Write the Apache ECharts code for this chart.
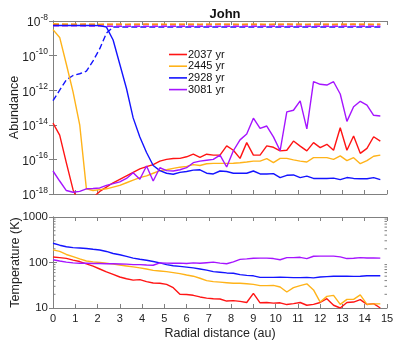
<!DOCTYPE html>
<html>
<head>
<meta charset="UTF-8">
<title>John</title>
<script src="https://cdn.jsdelivr.net/npm/echarts@6/dist/echarts.min.js"></script>
<style>
  * { margin: 0; padding: 0; }
  body { background: #fff; }
  #chart { width: 407px; height: 346px; }
</style>
</head>
<body>
<div id="chart"></div>
<script>
// radial grid (au)
const radius = [0, 0.3, 0.6, 0.9, 1.2, 1.5, 1.8, 2.1, 2.4, 2.7, 3.0, 3.3, 3.6, 3.9, 4.2, 4.5, 4.8, 5.1, 5.4, 5.7,
  6.0, 6.3, 6.6, 6.9, 7.2, 7.5, 7.8, 8.1, 8.4, 8.7, 9.0, 9.3, 9.6, 9.9, 10.2, 10.5, 10.8, 11.1, 11.4, 11.7,
  12.0, 12.3, 12.6, 12.9, 13.2, 13.5, 13.8, 14.1, 14.4, 14.7];

const names = ['2037 yr', '2445 yr', '2928 yr', '3081 yr'];
const colors = ['#ff1414', '#ffb319', '#1414ff', '#a514ff'];

// abundance, log10 exponent (solid lines)
const abun2037 = [-13.9, -14.6, -16.2, -17.75, -18.6, -18.8, -18.2, -17.85, -17.6, -17.35, -17.15, -16.95, -16.75, -16.55, -16.42, -16.3, -16.1, -16.0, -15.95, -15.94,
  -15.85, -15.7, -15.88, -15.7, -15.75, -15.75, -15.22, -15.47, -15.94, -15.03, -15.75, -15.75, -15.22, -15.3, -15.51, -15.47, -14.94, -15.23, -15.51, -15.03,
  -15.32, -15.13, -15.47, -14.17, -15.47, -14.65, -15.65, -15.36, -14.69, -14.94];
const abun2445 = [-8.5, -8.95, -10.5, -12.1, -14.0, -17.7, -17.8, -17.75, -17.7, -17.6, -17.5, -17.35, -17.2, -17.05, -16.95, -16.8, -16.65, -16.6, -16.52, -16.45,
  -16.4, -16.3, -16.35, -16.25, -16.23, -16.23, -16.23, -16.22, -16.19, -16.15, -16.1, -16.1, -15.96, -16.19, -15.94, -15.94, -16.03, -16.1, -16.15, -15.9,
  -15.9, -15.9, -16.0, -15.8, -16.07, -15.9, -16.25, -16.07, -15.82, -15.75];
const abun2928 = [-8.26, -8.26, -8.26, -8.26, -8.26, -8.26, -8.26, -8.27, -8.35, -9.1, -10.5, -11.9, -13.6, -14.7, -15.6, -16.35, -16.65, -16.8, -16.86, -16.75,
  -16.7, -16.62, -16.6, -16.8, -16.84, -16.67, -16.7, -16.8, -16.8, -16.8, -16.67, -16.84, -16.84, -16.82, -17.05, -16.92, -16.9, -17.05, -16.97, -17.1,
  -17.1, -17.1, -17.08, -17.17, -17.05, -17.1, -17.12, -17.12, -17.05, -17.17];
const abun3081 = [-16.67, -17.25, -17.8, -17.9, -17.85, -17.7, -17.68, -17.65, -17.5, -17.4, -17.3, -17.1, -16.77, -17.15, -16.38, -17.25, -16.48, -16.65, -16.67, -16.6,
  -16.48, -16.19, -16.1, -16.05, -16.0, -15.75, -16.44, -15.5, -14.87, -14.53, -13.62, -14.21, -14.07, -14.7, -15.5, -13.25, -13.16, -12.62, -14.24, -11.5,
  -11.66, -11.7, -11.51, -12.22, -13.8, -12.96, -12.64, -12.86, -13.45, -13.49];

// abundance, log10 exponent (dashed lines)
const abun2037d = [-8.2, -8.2, -8.21, -8.2, -8.2, -8.19, -8.2, -8.21, -8.2, -8.2, -8.2, -8.21, -8.2, -8.2, -8.19, -8.2, -8.2, -8.21, -8.2, -8.2,
  -8.2, -8.2, -8.21, -8.2, -8.2, -8.19, -8.2, -8.2, -8.21, -8.2, -8.2, -8.2, -8.21, -8.2, -8.2, -8.19, -8.2, -8.2, -8.21, -8.2,
  -8.2, -8.2, -8.21, -8.2, -8.2, -8.19, -8.2, -8.2, -8.21, -8.2];
const abun2445d = [-8.16, -8.17, -8.17, -8.18, -8.18, -8.18, -8.18, -8.18, -8.18, -8.18, -8.18, -8.18, -8.18, -8.18, -8.18, -8.18, -8.18, -8.18, -8.18, -8.18,
  -8.18, -8.18, -8.18, -8.18, -8.18, -8.18, -8.18, -8.18, -8.18, -8.18, -8.18, -8.18, -8.18, -8.18, -8.18, -8.18, -8.18, -8.18, -8.18, -8.18,
  -8.18, -8.18, -8.18, -8.18, -8.18, -8.18, -8.18, -8.18, -8.18, -8.18];
const abun2928d = [-12.6, -12.0, -11.4, -11.15, -11.05, -10.9, -10.3, -9.6, -8.7, -8.35, -8.35, -8.35, -8.35, -8.35, -8.35, -8.35, -8.35, -8.35, -8.35, -8.35,
  -8.35, -8.35, -8.35, -8.35, -8.35, -8.35, -8.35, -8.35, -8.35, -8.35, -8.35, -8.35, -8.35, -8.35, -8.35, -8.35, -8.35, -8.35, -8.35, -8.35,
  -8.35, -8.35, -8.35, -8.35, -8.35, -8.35, -8.35, -8.35, -8.35, -8.35];
const abun3081d = [-8.28, -8.28, -8.28, -8.28, -8.28, -8.29, -8.29, -8.29, -8.3, -8.3, -8.3, -8.3, -8.3, -8.3, -8.3, -8.3, -8.3, -8.3, -8.3, -8.3,
  -8.3, -8.3, -8.3, -8.3, -8.3, -8.3, -8.3, -8.3, -8.3, -8.3, -8.3, -8.3, -8.3, -8.3, -8.3, -8.3, -8.3, -8.3, -8.3, -8.3,
  -8.3, -8.3, -8.3, -8.3, -8.3, -8.3, -8.3, -8.3, -8.3, -8.3];

// temperature (K)
const temp2037 = [132, 128, 123, 113, 105, 93, 83, 72, 62, 55, 48, 44, 41, 42, 38, 35.5, 35, 33, 28, 20,
  19.8, 19, 17.5, 16.5, 16, 15.8, 14.2, 14.5, 14, 13.2, 21, 13, 13.2, 12.8, 13, 11.9, 12.5, 13.2, 11.5, 12,
  13.2, 16, 11.5, 10, 13.2, 13.5, 15.3, 11.9, 12.5, 10];
const temp2445 = [190, 175, 150, 135, 120, 108, 103, 100, 96, 92, 88, 84, 80, 76, 72, 67, 65, 63, 60, 57,
  53, 50, 45, 40, 38, 37, 36, 35, 35, 34, 33, 31, 31, 31.5, 29, 22.5, 28, 31, 34, 25,
  13.5, 18, 19, 12, 15.5, 15.5, 19.5, 12, 12.3, 12.3];
const temp2928 = [265, 240, 222, 212, 208, 203, 195, 188, 175, 158, 148, 136, 125, 118, 112, 105, 98, 90, 85, 82,
  79, 76, 72, 68, 63, 61, 59, 58, 54, 52, 51, 47, 47, 47, 47.5, 47, 46.5, 46.5, 47, 46,
  48, 49, 50, 50, 50, 49.5, 50, 51, 51, 51];
const temp3081 = [115, 108, 102, 98, 96, 96, 95, 95, 94, 94, 93, 92, 90, 90, 88, 87, 98, 97, 96, 97,
  95, 98, 96, 99, 102, 97, 94, 103, 117, 120, 124, 125, 125, 122, 115, 128, 128, 130, 122, 137,
  138, 138, 138, 133, 122, 124, 128, 126, 126, 125];

// temperature minor ticks
const tempMinor = [20, 30, 40, 50, 60, 70, 80, 90, 200, 300, 400, 500, 600, 700, 800, 900];

const abunSolid = [abun2037, abun2445, abun2928, abun3081];
const abunDashed = [abun2037d, abun2445d, abun2928d, abun3081d];
const temps = [temp2037, temp2445, temp2928, temp3081];

function pairs(arr) {
  return radius.map(function (r, i) { return [r, arr[i]]; });
}

const frame = '#808080';
const font = 'Liberation Sans';

function xAx(grid, pos, labels) {
  return {
    type: 'value', gridIndex: grid, position: pos, min: 0, max: 15, interval: 1,
    axisLine: { onZero: false, lineStyle: { color: frame, width: 1 } },
    axisTick: { inside: true, length: 4, lineStyle: { color: frame } },
    axisLabel: { show: labels, color: '#222', fontFamily: font, fontSize: 11, margin: 5 },
    splitLine: { show: false }
  };
}

const series = [];
abunDashed.forEach(function (arr, i) {
  series.push({
    name: names[i] + ' d', type: 'line', xAxisIndex: 0, yAxisIndex: 0,
    data: pairs(arr), symbol: 'none', silent: true,
    lineStyle: { color: colors[i], width: 1.4, type: [6, 3] }
  });
});
abunSolid.forEach(function (arr, i) {
  series.push({
    name: names[i], type: 'line', xAxisIndex: 0, yAxisIndex: 0,
    data: pairs(arr), symbol: 'none', itemStyle: { color: colors[i] },
    lineStyle: { color: colors[i], width: 1.4 }
  });
});
temps.forEach(function (arr, i) {
  series.push({
    name: names[i] + ' T', type: 'line', xAxisIndex: 2, yAxisIndex: 2,
    data: pairs(arr), symbol: 'none', silent: true,
    lineStyle: { color: colors[i], width: 1.4 }
  });
});
// minor ticks of the log temperature axis, both sides
series.push({
  type: 'custom', xAxisIndex: 2, yAxisIndex: 2, silent: true, clip: false,
  data: tempMinor.map(function (v) { return [0, v]; }),
  renderItem: function (params, api) {
    const v = api.value(1);
    const l = api.coord([0, v]);
    const r = api.coord([15, v]);
    const st = { stroke: frame, lineWidth: 1 };
    return {
      type: 'group', children: [
        { type: 'line', shape: { x1: l[0], y1: l[1], x2: l[0] + 2.5, y2: l[1] }, style: st },
        { type: 'line', shape: { x1: r[0], y1: r[1], x2: r[0] - 2.5, y2: r[1] }, style: st }
      ]
    };
  }
});

const chart = echarts.init(document.getElementById('chart'));
chart.setOption({
  animation: false,
  title: {
    text: 'John', left: 220, top: 3, textAlign: 'center',
    textStyle: { fontFamily: font, fontSize: 13, fontWeight: 'bold', color: '#111' }
  },
  legend: {
    data: names, orient: 'vertical', left: 164, top: 44,
    icon: 'rect', itemWidth: 18, itemHeight: 1.6, itemGap: 0.7,
    textStyle: { fontFamily: font, fontSize: 11, color: '#111', padding: [0, 0, 0, -4], lineHeight: 11 }
  },
  grid: [
    { left: 53, top: 21, width: 334, height: 173, outerBoundsMode: 'none', containLabel: false },
    { left: 53, top: 217, width: 334, height: 91, outerBoundsMode: 'none', containLabel: false }
  ],
  xAxis: [
    xAx(0, 'bottom', false),
    xAx(0, 'top', false),
    Object.assign(xAx(1, 'bottom', true), {
      name: 'Radial distance (au)', nameLocation: 'middle', nameGap: 19, nameMoveOverlap: false,
      nameTextStyle: { fontFamily: font, fontSize: 12.5, color: '#222' }
    }),
    xAx(1, 'top', false)
  ],
  yAxis: [
    {
      type: 'value', gridIndex: 0, position: 'left', min: -18, max: -8, interval: 2,
      name: 'Abundance', nameLocation: 'middle', nameGap: 32, nameMoveOverlap: false,
      nameTextStyle: { fontFamily: font, fontSize: 12.5, color: '#222' },
      axisLine: { lineStyle: { color: frame } },
      axisTick: { inside: true, length: 4, lineStyle: { color: frame } },
      splitLine: { show: false },
      axisLabel: {
        margin: 5, color: '#222', fontFamily: font,
        formatter: function (v) { return '{b|10}{s|' + v + '}'; },
        rich: {
          b: { fontSize: 12, fontFamily: font, color: '#222', lineHeight: 16, verticalAlign: 'bottom' },
          s: { fontSize: 8.5, fontFamily: font, color: '#222', lineHeight: 9, verticalAlign: 'top' }
        }
      }
    },
    {
      type: 'value', gridIndex: 0, position: 'right', min: -18, max: -8, interval: 2,
      axisLine: { lineStyle: { color: frame } },
      axisTick: { inside: true, length: 4, lineStyle: { color: frame } },
      axisLabel: { show: false }, splitLine: { show: false }
    },
    {
      type: 'log', logBase: 10, gridIndex: 1, position: 'left', min: 10, max: 1000,
      name: 'Temperature (K)', nameLocation: 'middle', nameGap: 31, nameMoveOverlap: false,
      nameTextStyle: { fontFamily: font, fontSize: 12.5, color: '#222' },
      axisLine: { lineStyle: { color: frame } },
      axisTick: { inside: true, length: 4, lineStyle: { color: frame } },
      splitLine: { show: false },
      axisLabel: { margin: 5, color: '#222', fontFamily: font, fontSize: 11.5, formatter: function (v) { return String(v); } }
    },
    {
      type: 'log', logBase: 10, gridIndex: 1, position: 'right', min: 10, max: 1000,
      axisLine: { lineStyle: { color: frame } },
      axisTick: { inside: true, length: 4, lineStyle: { color: frame } },
      axisLabel: { show: false }, splitLine: { show: false }
    }
  ],
  series: series
});
</script>
</body>
</html>
